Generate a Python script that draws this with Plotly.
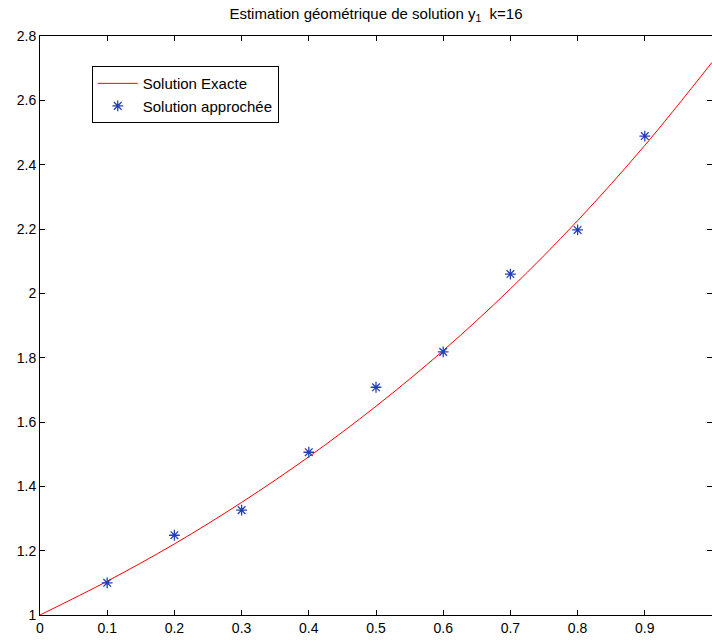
import plotly.graph_objects as go

# Exact solution
x_exact = [0.0, 0.1, 0.2, 0.3, 0.4, 0.5, 0.6, 0.7, 0.8, 0.9, 1.0]
y_exact = [1.000, 1.105, 1.221, 1.350, 1.492, 1.649, 1.822, 2.014, 2.226, 2.460, 2.718]

# Approximate solution points
x_approx = [0.1, 0.2, 0.3, 0.4, 0.5, 0.6, 0.7, 0.8, 0.9]
y_approx = [1.100, 1.248, 1.326, 1.506, 1.708, 1.818, 2.060, 2.197, 2.489]

x_ticks = [0, 0.1, 0.2, 0.3, 0.4, 0.5, 0.6, 0.7, 0.8, 0.9]
x_ticklabels = ["0", "0.1", "0.2", "0.3", "0.4", "0.5", "0.6", "0.7", "0.8", "0.9"]
y_ticks = [1, 1.2, 1.4, 1.6, 1.8, 2, 2.2, 2.4, 2.6, 2.8]
y_ticklabels = ["1", "1.2", "1.4", "1.6", "1.8", "2", "2.2", "2.4", "2.6", "2.8"]

FONT = "Liberation Sans, Arial, sans-serif"

fig = go.Figure()
fig.add_trace(go.Scatter(
    x=x_exact, y=y_exact, mode="lines", name="Solution Exacte",
    line=dict(color="#ff0000", width=1, shape="spline"),
))
fig.add_trace(go.Scatter(
    x=x_approx, y=y_approx, mode="markers", name="Solution approchée",
    marker=dict(symbol="asterisk-open", size=9, color="#2340b8",
                line=dict(color="#2340b8", width=1.3)),
))

axis_common = dict(
    showgrid=False, zeroline=False, showline=True, linecolor="black",
    linewidth=1, mirror="ticks", ticks="inside", ticklen=5,
    tickcolor="black", tickwidth=1,
    tickfont=dict(family=FONT, size=14, color="black"),
)

fig.update_layout(
    width=712, height=641,
    margin=dict(l=40, r=0, t=36, b=26),
    paper_bgcolor="white", plot_bgcolor="white",
    title=dict(text="Estimation géométrique de solution y<sub>1</sub>  k=16",
               x=(40 + 712) / 2 / 712, xanchor="center", y=1 - 14 / 641, yanchor="middle",
               font=dict(family=FONT, size=15, color="black")),
    xaxis=dict(range=[0, 1], tickvals=x_ticks, ticktext=x_ticklabels, **axis_common),
    yaxis=dict(range=[1, 2.8], tickvals=y_ticks, ticktext=y_ticklabels, **axis_common),
    legend=dict(x=0.077, y=0.948, xanchor="left", yanchor="top",
                bordercolor="black", borderwidth=1, bgcolor="white",
                font=dict(family=FONT, size=15, color="black"),
                tracegroupgap=0, itemwidth=40),
    showlegend=True,
)

fig.write_html(
    "out.html",
    config={"displayModeBar": False},
    post_script="document.body.style.margin='0';document.body.style.overflow='hidden';",
)
